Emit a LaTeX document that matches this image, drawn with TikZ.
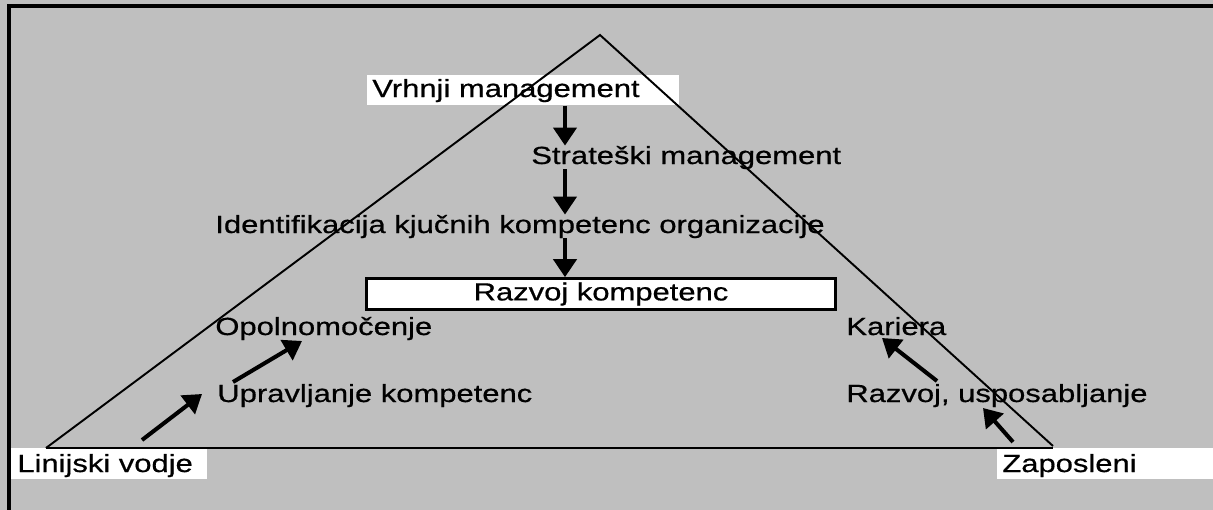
\documentclass[tikz,border=0pt]{standalone}
\usepackage{fontspec}
\setmainfont{Liberation Sans}[FakeStretch=1.25,FakeBold=0.6]
\usetikzlibrary{arrows.meta}

\begin{document}
\begin{tikzpicture}[x=0.02cm, y=-0.02cm,
	napis/.style={inner sep=0pt, anchor=base west, font=\fontsize{14.1}{16}\selectfont},
	belo/.style={fill=white, inner sep=0pt, anchor=north west},
	puscica/.style={line width=2.3pt, -{Triangle[length=0.36cm,width=0.46cm]}},
	stranica/.style={line width=1.1pt}]
			%%%%% START %%%%%
			\useasboundingbox (0,0) rectangle (1213,510);
			\fill[black!25] (-5,-5) rectangle (1220,515);
			\draw[line width=2.2pt] (9,520) -- (9,6) -- (1220,6);
			
			\node[belo, minimum width=6.24cm, minimum height=0.6cm] (vrhbox) at (367,75) {};
			\node[belo, minimum width=3.92cm, minimum height=0.62cm] (linbox) at (11,448) {};
			\node[belo, minimum width=4.5cm, minimum height=0.62cm] (zapbox) at (997,448) {};
			
			\node[napis] (vrhnji) at (372,97) {Vrhnji management};
			\node[napis] (strat) at (531,164) {Strateški management};
			\node[napis] (ident) at (215,233) {Identifikacija kjučnih kompetenc organizacije};
			\node[draw, line width=1.5pt, fill=white, inner sep=0pt, minimum width=9.38cm, minimum height=0.62cm,
				font=\fontsize{14.1}{16}\selectfont] (razvoj) at (601,294) {Razvoj kompetenc};
			\node[napis] (opol) at (215,335) {Opolnomočenje};
			\node[napis] (upr) at (217,402) {Upravljanje kompetenc};
			\node[napis] (kar) at (846,335) {Kariera};
			\node[napis] (usp) at (846,402) {Razvoj, usposabljanje};
			\node[napis] (lin) at (17,472) {Linijski vodje};
			\node[napis] (zap) at (1002,472) {Zaposleni};
			
			\coordinate (ax) at (565,0);
			\draw[puscica] (vrhbox.south -| ax) -- (strat.north -| ax);
			\draw[puscica] (strat.south -| ax) -- (ident.north -| ax);
			\draw[puscica] (ident.south -| ax) -- (razvoj.north -| ax);
			
			\coordinate (l1) at (142,440);
			\coordinate (l2) at (202,394);
			\coordinate (l3) at (233,382);
			\coordinate (l4) at (302,341);
			\coordinate (d1) at (1013,442);
			\coordinate (d2) at (983,408);
			\coordinate (d3) at (937,381);
			\coordinate (d4) at (882,338);
			\draw[puscica] (l1) -- (l2);
			\draw[puscica] (l3) -- (l4);
			\draw[puscica] (d1) -- (d2);
			\draw[puscica] (d3) -- (d4);
			
			\coordinate (vrh) at (600,35);
			\coordinate (levo) at (46,448);
			\coordinate (desno) at (1053,446);
			\draw[stranica] (levo) -- (vrh) -- (desno);
			\draw[line width=1.5pt] (levo) -- (desno |- levo);
			%%%%% END %%%%%
\end{tikzpicture}
\end{document}
